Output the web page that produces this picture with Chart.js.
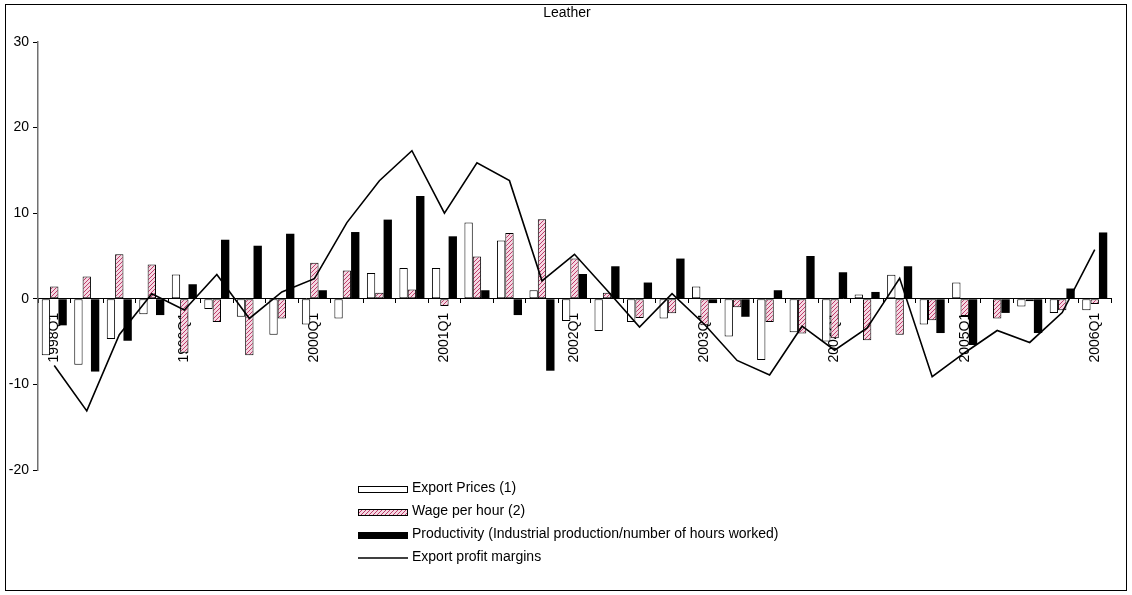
<!DOCTYPE html>
<html>
<head>
<meta charset="utf-8">
<script src="https://cdn.jsdelivr.net/npm/chart.js@4/dist/chart.umd.min.js"></script>
<style>
  html, body { margin: 0; padding: 0; background: #ffffff; }
  #wrap { width: 1132px; height: 595px; }
</style>
</head>
<body>
<div id="wrap"><canvas id="chart" width="1132" height="595"></canvas></div>
<script>
// Quarterly growth rates (%), leather industry
const quarters = [
  '1998Q1','1998Q2','1998Q3','1998Q4',
  '1999Q1','1999Q2','1999Q3','1999Q4',
  '2000Q1','2000Q2','2000Q3','2000Q4',
  '2001Q1','2001Q2','2001Q3','2001Q4',
  '2002Q1','2002Q2','2002Q3','2002Q4',
  '2003Q1','2003Q2','2003Q3','2003Q4',
  '2004Q1','2004Q2','2004Q3','2004Q4',
  '2005Q1','2005Q2','2005Q3','2005Q4',
  '2006Q1'
];

const exportPrices = [
  -6.6, -7.7, -4.7, -1.8,
  2.85, -1.2, -2.1, -4.2,
  -3.0, -2.3, 3.0, 3.6,
  3.6, 8.9, 6.8, 1.0,
  -2.6, -3.75, -2.7, -2.3,
  1.45, -4.4, -7.15, -3.9,
  -5.0, 0.5, 2.8, -3.0,
  1.9, 0.0, -0.9, -1.65,
  -1.35
];

const wagePerHour = [
  1.45, 2.6, 5.2, 4.0,
  -6.3, -2.7, -6.6, -2.3,
  4.2, 3.3, 0.7, 1.1,
  -0.85, 4.95, 7.7, 9.3,
  4.7, 0.7, -2.25, -1.7,
  -3.1, -1.0, -2.7, -4.05,
  -4.6, -4.85, -4.2, -2.5,
  -2.0, -2.3, -0.3, -1.35,
  -0.6
];

const productivity = [
  -3.1, -8.5, -4.9, -1.9,
  1.7, 6.9, 6.2, 7.6,
  1.0, 7.8, 9.25, 12.0,
  7.3, 1.0, -1.9, -8.4,
  2.9, 3.8, 1.9, 4.7,
  -0.5, -2.1, 1.0, 5.0,
  3.1, 0.8, 3.8, -4.0,
  -5.4, -1.65, -4.0, 1.2,
  7.75
];

const profitMargins = [
  -7.8, -13.1, -4.2, 0.6,
  -1.3, 2.85, -2.3, 0.8,
  2.35, 8.9, 13.8, 17.3,
  10.0, 15.9, 13.8, 2.1,
  5.2, 1.0, -3.3, 0.6,
  -3.0, -7.2, -8.9, -3.2,
  -6.0, -3.4, 2.4, -9.1,
  -6.3, -3.7, -5.1, -1.6,
  5.75
];

const yTicks = [-20, -10, 0, 10, 20, 30];

const seriesNames = [
  'Export Prices (1)',
  'Wage per hour (2)',
  'Productivity (Industrial production/number of hours worked)',
  'Export profit margins'
];

const FONT = 'Liberation Sans, Arial, sans-serif';

// Pink diagonal hatch used for the wage series
function makeHatch() {
  const c = document.createElement('canvas');
  c.width = 4; c.height = 4;
  const g = c.getContext('2d');
  g.fillStyle = '#f4d8e2';
  g.fillRect(0, 0, 4, 4);
  g.strokeStyle = '#c03c6c';
  g.lineWidth = 1;
  g.beginPath();
  g.moveTo(-1, 5); g.lineTo(5, -1);
  g.moveTo(-1, 1); g.lineTo(1, -1);
  g.moveTo(3, 5); g.lineTo(5, 3);
  g.stroke();
  return g.createPattern(c, 'repeat');
}

const canvas = document.getElementById('chart');
const ctx = canvas.getContext('2d');
const hatch = makeHatch();

// Frame, title and the stacked legend below the plot
const decorations = {
  id: 'decorations',
  afterDraw(chart) {
    const c = chart.ctx;
    c.save();
    c.strokeStyle = '#000000';
    c.lineWidth = 1;
    c.strokeRect(5.5, 4.5, 1121, 586);

    c.fillStyle = '#000000';
    c.font = '14px ' + FONT;
    c.textAlign = 'center';
    c.textBaseline = 'middle';
    c.fillText('Leather', 567, 13);

    const boxX = 358, boxW = 50, textX = 412;
    const rows = [488, 511, 534, 557];
    c.textAlign = 'left';
    rows.forEach((y, i) => {
      if (i < 3) {
        const fill = i === 0 ? '#ffffff' : (i === 1 ? hatch : '#000000');
        c.fillStyle = fill;
        c.fillRect(boxX, y - 2, boxW, 7);
        c.strokeStyle = '#000000';
        c.lineWidth = 1;
        c.strokeRect(boxX + 0.5, y - 1.5, boxW - 1, 6);
      } else {
        c.strokeStyle = '#000000';
        c.lineWidth = 1.5;
        c.beginPath();
        c.moveTo(boxX, y + 1);
        c.lineTo(boxX + boxW, y + 1);
        c.stroke();
      }
      c.fillStyle = '#000000';
      c.fillText(seriesNames[i], textX, y);
    });
    c.restore();
  }
};

new Chart(ctx, {
  type: 'bar',
  data: {
    labels: quarters,
    datasets: [
      {
        label: seriesNames[0],
        data: exportPrices,
        backgroundColor: '#ffffff',
        borderColor: '#000000',
        borderWidth: 1,
        borderSkipped: false,
        order: 1
      },
      {
        label: seriesNames[1],
        data: wagePerHour,
        backgroundColor: hatch,
        borderColor: '#000000',
        borderWidth: 1,
        borderSkipped: false,
        order: 1
      },
      {
        label: seriesNames[2],
        data: productivity,
        backgroundColor: '#000000',
        borderColor: '#000000',
        borderWidth: 0,
        order: 1
      },
      {
        type: 'line',
        label: seriesNames[3],
        data: profitMargins,
        borderColor: '#000000',
        borderWidth: 1.6,
        pointRadius: 0,
        tension: 0,
        fill: false,
        order: 0
      }
    ]
  },
  options: {
    responsive: false,
    animation: false,
    devicePixelRatio: 1,
    datasets: {
      bar: { categoryPercentage: 0.77, barPercentage: 1.0 }
    },
    layout: { padding: { top: 42, bottom: 125, left: 5, right: 21 } },
    plugins: {
      legend: { display: false },
      title: { display: false },
      tooltip: { enabled: false }
    },
    scales: {
      x: {
        type: 'category',
        position: { y: 0 },
        offset: true,
        grid: {
          offset: true,
          drawOnChartArea: false,
          drawTicks: true,
          tickLength: 4,
          color: '#000000'
        },
        border: { display: true, color: '#000000', width: 1 },
        ticks: {
          autoSkip: false,
          minRotation: 90,
          maxRotation: 90,
          padding: 10,
          color: '#000000',
          font: { family: FONT, size: 14 },
          callback: (value, index) => (index % 4 === 0 ? quarters[index] : '')
        }
      },
      y: {
        min: yTicks[0],
        max: yTicks[yTicks.length - 1],
        afterBuildTicks(scale) {
          scale.ticks = yTicks.map(v => ({ value: v }));
        },
        afterFit(scale) { scale.width = 33; },
        grid: {
          drawOnChartArea: false,
          drawTicks: true,
          tickLength: 5,
          color: '#000000'
        },
        border: { display: true, color: '#707070', width: 1.5 },
        ticks: {
          padding: 4,
          color: '#000000',
          font: { family: FONT, size: 14 }
        }
      }
    }
  },
  plugins: [decorations]
});
</script>
</body>
</html>
